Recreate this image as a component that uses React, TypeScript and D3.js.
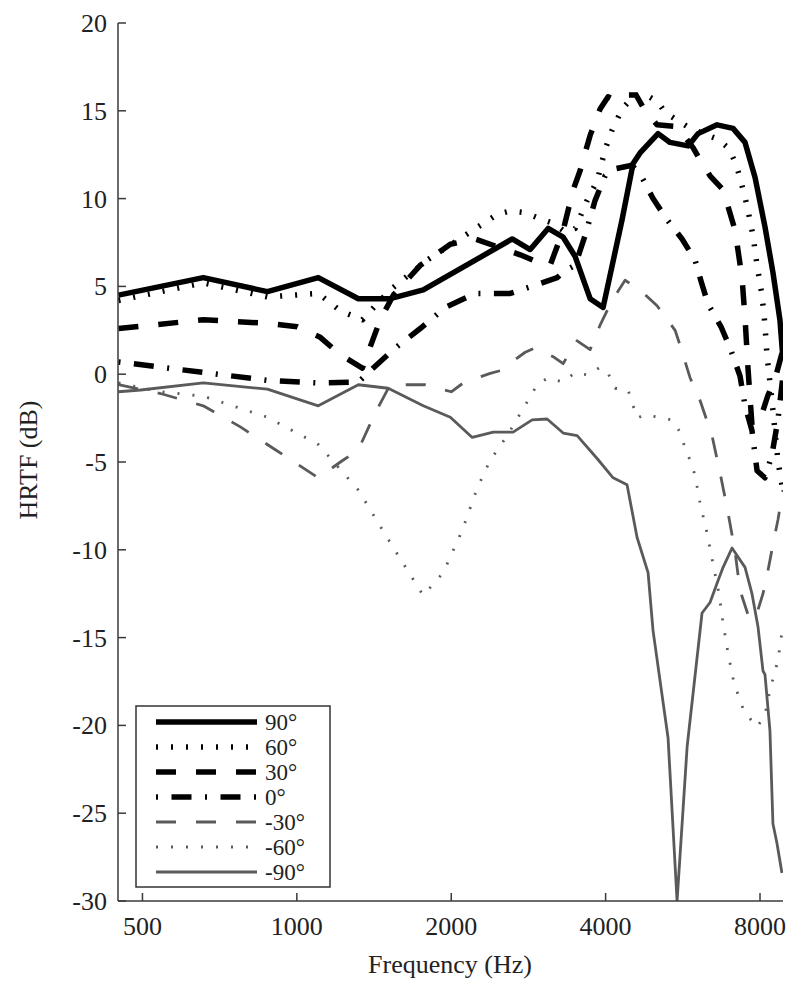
import React from "react";
import * as d3 from "d3";

// frequency (Hz) and HRTF (dB), one pair of arrays per azimuth
const F_90 = [449, 657, 876, 1101, 1318, 1521, 1764, 2630, 2851, 3090, 3306, 3489, 3731, 3955, 4307, 4525, 4669, 5062, 5342, 5792, 6058, 6597, 7088, 7480, 7825, 8180, 8478, 8748, 8868];
const V_90 = [4.5, 5.5, 4.7, 5.5, 4.3, 4.3, 4.8, 7.7, 7.1, 8.3, 7.8, 6.7, 4.3, 3.8, 8.8, 12.0, 12.6, 13.7, 13.2, 13.0, 13.7, 14.2, 14.0, 13.2, 11.2, 8.4, 5.8, 3.1, 0.9];

const F_60 = [449, 657, 876, 1101, 1216, 1342, 1521, 1796, 2178, 2458, 2606, 2788, 2955, 3160, 3336, 3489, 3681, 3850, 3991, 4118, 4307, 4525, 4732, 5062, 5223, 5844, 6597, 6932, 7152, 7313, 7547, 7752, 7895, 8072, 8180, 8253, 8440, 8554, 8670, 8788, 8868];
const V_60 = [4.2, 5.2, 4.4, 4.6, 3.6, 3.1, 4.8, 6.5, 8.1, 9.1, 9.3, 9.2, 8.9, 8.6, 8.1, 8.3, 9.9, 11.0, 12.8, 13.9, 15.1, 15.8, 16.0, 15.5, 14.9, 14.0, 13.4, 12.9, 12.1, 11.2, 9.6, 7.9, 6.2, 4.5, 2.8, 1.1, -1.5, -3.2, -4.9, -6.0, -6.6];

const F_30 = [449, 657, 876, 1002, 1111, 1216, 1342, 1454, 1542, 1740, 1992, 2227, 2492, 2726, 2942, 3118, 3306, 3458, 3568, 3731, 3902, 4045, 4173, 4424, 4586, 4732, 5039, 5513, 5923, 6058, 6392, 6778, 7152, 7379, 7480, 7581, 7717, 8000, 8290, 8554, 8868];
const V_30 = [2.6, 3.1, 2.9, 2.7, 2.1, 1.1, 0.35, 3.1, 4.5, 6.2, 7.4, 7.7, 7.2, 6.8, 6.4, 6.2, 8.2, 10.5, 11.6, 13.6, 15.1, 15.8, 15.6, 15.9, 15.9, 15.2, 14.2, 14.1, 12.9, 12.4, 11.3, 10.5, 8.2, 5.5, 3.2, 0.3, -2.9, -2.6, -1.2, -0.3, 1.4];

const F_0 = [449, 657, 876, 1101, 1318, 1391, 1556, 1740, 1947, 2227, 2606, 2942, 3218, 3336, 3489, 3648, 3816, 3991, 4173, 4505, 4711, 4949, 5270, 5638, 5976, 6140, 6335, 6716, 6992, 7313, 7480, 7717, 7895, 8180, 8440, 8670, 8868];
const V_0 = [0.7, 0.1, -0.35, -0.5, -0.45, 0.2, 1.5, 2.6, 3.8, 4.6, 4.6, 5.1, 5.5, 5.9, 6.2, 7.9, 9.9, 11.3, 11.7, 11.9, 11.2, 10.0, 8.8, 7.7, 6.5, 5.3, 4.0, 2.7, 1.5, -0.1, -1.8, -3.2, -5.5, -5.9, -4.6, -2.6, -0.1];

const F_M30 = [449, 542, 657, 776, 908, 1101, 1216, 1318, 1422, 1521, 1780, 2000, 2111, 2382, 2492, 2788, 2916, 3160, 3306, 3366, 3520, 3731, 3902, 4118, 4365, 4669, 5039, 5464, 5587, 5844, 6113, 6449, 6685, 6932, 7152, 7313, 7581, 7717, 7930, 8108, 8290, 8478, 8670, 8868];
const V_M30 = [-0.6, -1.1, -1.8, -3.0, -4.3, -5.9, -5.0, -4.3, -2.2, -0.6, -0.6, -1.0, -0.5, 0.05, 0.2, 1.25, 1.5, 1.0, 0.6, 1.0, 1.9, 1.4, 2.8, 4.2, 5.35, 4.8, 3.9, 2.5, 1.65, -0.2, -1.5, -3.5, -5.6, -7.9, -10.1, -12.3, -13.7, -14.0, -13.4, -12.5, -11.2, -9.7, -8.3, -6.6];

const F_M60 = [449, 542, 657, 876, 1101, 1318, 1521, 1764, 1929, 2101, 2247, 2382, 2571, 2751, 2942, 3090, 3306, 3489, 3698, 3902, 4045, 4173, 4424, 4607, 4776, 5062, 5390, 5587, 5714, 5844, 5976, 6113, 6307, 6478, 6656, 6778, 6932, 7120, 7445, 7895, 8180, 8365, 8670, 8868];
const V_M60 = [-0.5, -1.0, -1.25, -2.45, -4.0, -6.6, -9.6, -12.6, -11.3, -8.9, -6.5, -4.9, -3.5, -2.05, -0.6, -0.2, -0.45, 0.1, -0.05, 0.4, 0.05, -0.8, -0.9, -2.5, -2.3, -2.45, -2.6, -3.3, -4.2, -4.9, -5.75, -7.35, -9.05, -10.8, -12.5, -14.2, -15.9, -17.6, -19.2, -20.1, -19.4, -18.0, -16.3, -14.3];

const F_M90 = [449, 496, 657, 876, 1101, 1318, 1507, 1764, 1992, 2198, 2415, 2640, 2876, 3076, 3306, 3520, 3850, 4137, 4404, 4607, 4840, 4949, 5294, 5513, 5768, 6167, 6392, 6597, 6778, 7055, 7480, 7717, 7930, 8108, 8180, 8365, 8478, 8631, 8828];
const V_M90 = [-1.0, -0.9, -0.5, -0.85, -1.8, -0.6, -0.8, -1.8, -2.45, -3.6, -3.3, -3.3, -2.6, -2.55, -3.35, -3.5, -4.8, -5.9, -6.3, -9.3, -11.3, -14.6, -20.7, -30, -21.2, -13.6, -13.0, -11.9, -11.0, -9.9, -11.0, -12.5, -14.4, -16.9, -17.1, -20.3, -25.6, -26.7, -28.4];

const LABELS = ["90°", "60°", "30°", "0°", "-30°", "-60°", "-90°"];
const X_TICKS = [500, 1000, 2000, 4000, 8000];
const Y_TICKS = [-30, -25, -20, -15, -10, -5, 0, 5, 10, 15, 20];

const W = 800;
const H = 991;
const left = 118, right = 783, top = 23, bottom = 901;

const GRAY = "#5a5a5a";
const FONT = "'Liberation Serif', 'Times New Roman', serif";

const styles = [
  { color: "#000", width: 5.5, dash: undefined },
  { color: "#000", width: 5.5, dash: "2 13" },
  { color: "#000", width: 5.5, dash: "20 20" },
  { color: "#000", width: 5.5, dash: "2 13.5 20 13.5" },
  { color: GRAY, width: 2.8, dash: "20 20" },
  { color: GRAY, width: 2.8, dash: "2 13" },
  { color: GRAY, width: 2.8, dash: undefined },
];

const freqs = [F_90, F_60, F_30, F_0, F_M30, F_M60, F_M90];
const vals = [V_90, V_60, V_30, V_0, V_M30, V_M60, V_M90];

export default function App() {
  const x = d3.scaleLog().domain([448, 8870]).range([left, right]);
  const y = d3.scaleLinear().domain([-30, 20]).range([bottom, top]);

  const line = d3
    .line<[number, number]>()
    .x((d) => x(d[0]))
    .y((d) => y(d[1]));

  const series = LABELS.map((label, i) => ({
    label,
    pts: freqs[i].map((f, j) => [f, vals[i][j]] as [number, number]),
    ...styles[i],
  }));

  // legend box
  const lg = { x: 136, y: 706, w: 194, h: 181 };
  const rowY = (i: number) => lg.y + 16 + i * 25;

  return (
    <svg
      width={W}
      height={H}
      style={{ position: "absolute", left: 0, top: 0, background: "#fff" }}
      fontFamily={FONT}
    >
      <defs>
        <clipPath id="plot">
          <rect x={left} y={top} width={right - left} height={bottom - top} />
        </clipPath>
      </defs>

      {/* curves */}
      <g clipPath="url(#plot)" fill="none">
        {series.map((s) => (
          <path
            key={s.label}
            d={line(s.pts) || ""}
            stroke={s.color}
            strokeWidth={s.width}
            strokeDasharray={s.dash}
            strokeLinejoin="round"
          />
        ))}
      </g>

      {/* axes */}
      <g stroke="#3a3a3a" strokeWidth={1.5}>
        <line x1={left} x2={left} y1={top} y2={bottom} />
        <line x1={left} x2={right} y1={bottom} y2={bottom} />
        {Y_TICKS.map((t) => (
          <line key={t} x1={left} x2={left + 8} y1={y(t)} y2={y(t)} />
        ))}
        {X_TICKS.map((t) => (
          <line key={t} x1={x(t)} x2={x(t)} y1={bottom} y2={bottom - 8} />
        ))}
      </g>
      <g fill="#222" fontSize={26}>
        {Y_TICKS.map((t) => (
          <text key={t} x={107} y={y(t) + 9} textAnchor="end">
            {t}
          </text>
        ))}
        {X_TICKS.map((t) => (
          <text key={t} x={x(t)} y={935} textAnchor="middle">
            {t}
          </text>
        ))}
        <text x={450} y={973} textAnchor="middle">
          Frequency (Hz)
        </text>
        <text transform="translate(37,460) rotate(-90)" textAnchor="middle">
          HRTF (dB)
        </text>
      </g>

      {/* legend */}
      <rect x={lg.x} y={lg.y} width={lg.w} height={lg.h} fill="#fff" stroke="#333" strokeWidth={1.5} />
      {series.map((s, i) => (
        <g key={s.label}>
          <line
            x1={156}
            x2={257}
            y1={rowY(i)}
            y2={rowY(i)}
            stroke={s.color}
            strokeWidth={s.width}
            strokeDasharray={s.dash}
          />
          <text x={265} y={rowY(i) + 8} fontSize={23} fill="#222">
            {s.label}
          </text>
        </g>
      ))}
    </svg>
  );
}
